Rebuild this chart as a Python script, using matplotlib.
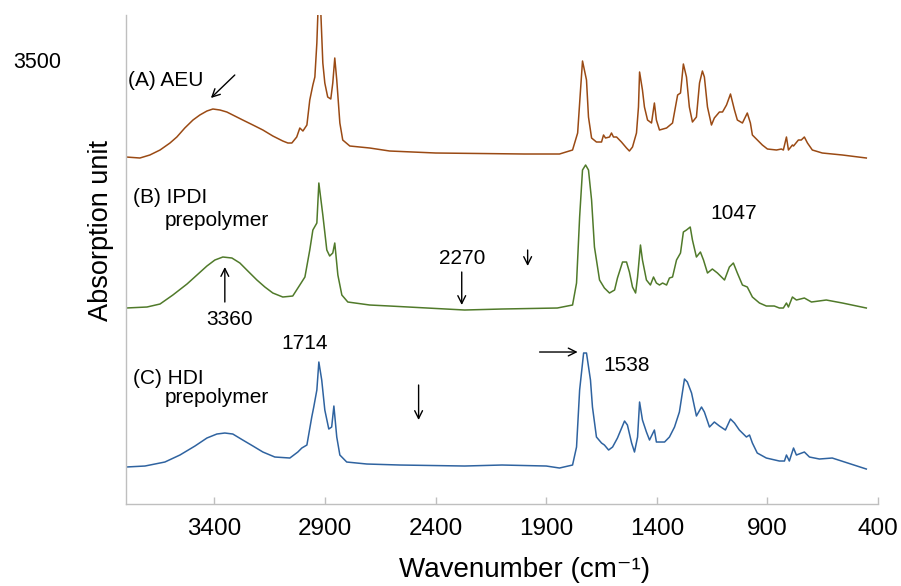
import matplotlib
matplotlib.use('Agg')
import matplotlib.pyplot as plt

plt.rcParams['font.family'] = ['Liberation Sans', 'DejaVu Sans']

# (A) AEU - wavenumber (cm-1) and absorption (arbitrary, offset included)
wn_a = [3800, 3737, 3692, 3646, 3601, 3570, 3534, 3497, 3466, 3434, 3407, 3375, 3344, 3317,
        3272, 3226, 3181, 3136, 3091, 3068, 3050, 3028,
        3014, 3000, 2982, 2969, 2955, 2946, 2937, 2926, 2910, 2901, 2888, 2874, 2865, 2856,
        2847, 2833, 2820, 2788, 2698, 2608, 2400, 2000, 1840, 1781, 1758, 1745, 1736, 1718,
        1709, 1695, 1673, 1650, 1641, 1632, 1614, 1605, 1596, 1582, 1560, 1537, 1524, 1510,
        1492, 1483, 1478, 1465, 1456, 1442, 1424, 1411, 1402, 1388, 1356, 1329, 1306, 1293,
        1280, 1266, 1253, 1239, 1221, 1207, 1194, 1185, 1171, 1153, 1140, 1117, 1103, 1085,
        1067, 1049, 1036, 1013, 991, 977, 968, 950, 923, 900, 859, 837, 828, 814, 805, 787,
        782, 760, 747, 733, 719, 697, 652, 561, 453]
abs_a = [347, 346, 349, 354, 361, 367, 376, 384, 389, 393, 395, 394, 392, 389,
         384, 379, 374, 368, 363, 361, 361, 367,
         376, 373, 379, 404, 419, 427, 461, 530, 441, 421, 407, 405, 421, 446,
         424, 381, 364, 358, 356, 353, 351, 350, 350, 354, 371, 414, 443, 424,
         387, 366, 362, 362, 369, 366, 367, 371, 367, 367, 362, 356, 353, 357,
         371, 397, 432, 414, 397, 384, 381, 401, 384, 374, 376, 381, 409, 411,
         440, 427, 397, 382, 387, 421, 433, 427, 397, 379, 386, 392, 392, 399,
         410, 394, 384, 381, 391, 381, 369, 365, 359, 355, 354, 355, 354, 367, 354, 359,
         358, 364, 364, 367, 361, 354, 351, 349, 346]

# (B) IPDI prepolymer
wn_b = [3800, 3705, 3646, 3588, 3524, 3479, 3434, 3398, 3362, 3321, 3285, 3249, 3208, 3172,
        3136, 3091, 3046, 3014, 2991, 2969,
        2955, 2937, 2928, 2910, 2892, 2879, 2865, 2856, 2842, 2824, 2797, 2698, 2608, 2269,
        2100, 1850, 1781, 1763, 1749, 1736, 1722, 1709, 1695, 1682, 1659, 1637, 1614, 1591,
        1578, 1555, 1537, 1524, 1510, 1496, 1487, 1474, 1465, 1447, 1429, 1415, 1402, 1388,
        1374, 1356, 1343, 1329, 1311, 1293, 1280, 1266, 1249, 1239, 1221, 1203, 1189, 1171,
        1149, 1126, 1094, 1072, 1054, 1036, 1013, 991, 968, 936, 905, 869, 846, 828, 814,
        805, 787, 769, 733, 701, 634, 561, 453]
abs_b = [196, 197, 200, 209, 220, 229, 238, 244, 247, 246, 241, 233, 224, 217,
         211, 207, 208, 219, 227, 254,
         274, 281, 321, 289, 254, 248, 251, 261, 229, 209, 202, 199, 198, 194,
         195, 196, 199, 221, 287, 334, 339, 334, 304, 257, 224, 216, 211, 214,
         226, 242, 242, 232, 217, 211, 227, 259, 244, 224, 219, 227, 221, 219,
         221, 219, 226, 227, 244, 251, 272, 274, 277, 264, 247, 252, 244, 231,
         235, 231, 224, 237, 241, 231, 219, 217, 207, 201, 198, 198, 196, 196, 201,
         197, 207, 204, 206, 202, 204, 201, 196]

# (C) HDI prepolymer
wn_c = [3800, 3714, 3624, 3556, 3488, 3434, 3389, 3353, 3317, 3272, 3226, 3181, 3127, 3059,
        3023, 3005, 2982, 2960, 2951,
        2937, 2928, 2915, 2901, 2883, 2870, 2860, 2847, 2833, 2802, 2711, 2562, 2269, 2100,
        1900, 1840, 1781, 1763, 1749, 1731, 1718, 1700, 1691, 1673, 1650, 1637, 1618, 1600,
        1578, 1546, 1533, 1514, 1501, 1487, 1478, 1465, 1447, 1433, 1411, 1402, 1379, 1365,
        1343, 1320, 1298, 1275, 1262, 1243, 1221, 1198, 1185, 1162, 1140, 1117, 1090, 1067,
        1049, 1027, 995, 981, 968, 946, 905, 846, 823, 814, 801, 782, 769, 733, 710, 665,
        607, 453]
abs_c = [37, 38, 42, 49, 58, 66, 70, 71, 70, 64, 58, 52, 47, 46,
         52, 56, 59, 87, 97,
         114, 142, 124, 94, 75, 77, 98, 67, 49, 42, 40, 39, 38, 39,
         38, 36, 39, 57, 114, 151, 151, 124, 97, 67, 61, 59, 54, 57,
         66, 83, 79, 61, 52, 67, 102, 84, 72, 64, 74, 62, 62, 62,
         67, 77, 92, 125, 122, 111, 88, 97, 92, 77, 82, 78, 74, 85,
         81, 74, 67, 69, 61, 51, 46, 43, 43, 49, 43, 56, 49, 52, 47, 45,
         46, 35]

xticks = [3400, 2900, 2400, 1900, 1400, 900, 400]
col_a = '#9A4A14'
col_b = '#507A2A'
col_c = '#2F63A0'
axis_col = '#BFBFBF'

fig = plt.figure(figsize=(9.01, 5.86), dpi=100)
ax = fig.add_axes([0.1398, 0.1399, 0.8347, 0.8345])

ax.plot(wn_a, abs_a, color=col_a, lw=1.1)
ax.plot(wn_b, abs_b, color=col_b, lw=1.1)
ax.plot(wn_c, abs_c, color=col_c, lw=1.1)

ax.set_xlim(3800, 400)
ax.set_ylim(0, 489)
ax.set_xticks(xticks)
ax.set_xticklabels([str(t) for t in xticks])
ax.set_yticks([])
for s in ['top', 'right']:
    ax.spines[s].set_visible(False)
for s in ['left', 'bottom']:
    ax.spines[s].set_color(axis_col)
    ax.spines[s].set_linewidth(1.0)
ax.tick_params(axis='x', direction='in', length=5, width=1, color=axis_col,
               labelsize=17.5, pad=10)

# axis titles
fig.text(525 / 901, 1 - 570 / 586, 'Wavenumber (cm\u207b\u00b9)',
         ha='center', va='center', fontsize=20)
fig.text(101 / 901, 1 - 230 / 586, 'Absorption unit', rotation=90,
         ha='center', va='center', fontsize=19.5)
fig.text(13 / 901, 1 - 63 / 586, '3500', ha='left', va='center', fontsize=15.5)

# labels
fs = 15
ax.text(3791, 424, '(A) AEU', ha='left', va='center', fontsize=fs)
ax.text(3768, 307, '(B) IPDI', ha='left', va='center', fontsize=fs)
ax.text(3624, 284, 'prepolymer', ha='left', va='center', fontsize=fs)
ax.text(3768, 126, '(C) HDI', ha='left', va='center', fontsize=fs)
ax.text(3624, 107, 'prepolymer', ha='left', va='center', fontsize=fs)
ax.text(3330, 185, '3360', ha='center', va='center', fontsize=fs)
ax.text(2991, 161, '1714', ha='center', va='center', fontsize=fs)
ax.text(2282, 246, '2270', ha='center', va='center', fontsize=fs)
ax.text(1537, 139, '1538', ha='center', va='center', fontsize=fs)
ax.text(1054, 291, '1047', ha='center', va='center', fontsize=fs)

# arrows (head, tail)
arrows = [((3416, 406), (3308, 429)),
          ((3353, 237), (3353, 202)),
          ((2282, 199), (2282, 232)),
          ((1984, 238), (1984, 254)),
          ((2477, 84), (2477, 119)),
          ((1758, 152), (1930, 152))]
for head, tail in arrows:
    ax.annotate('', xy=head, xytext=tail,
                arrowprops=dict(arrowstyle='->', color='black', lw=1.0,
                                mutation_scale=14, shrinkA=0, shrinkB=0))

fig.savefig('out.png', dpi=100)
